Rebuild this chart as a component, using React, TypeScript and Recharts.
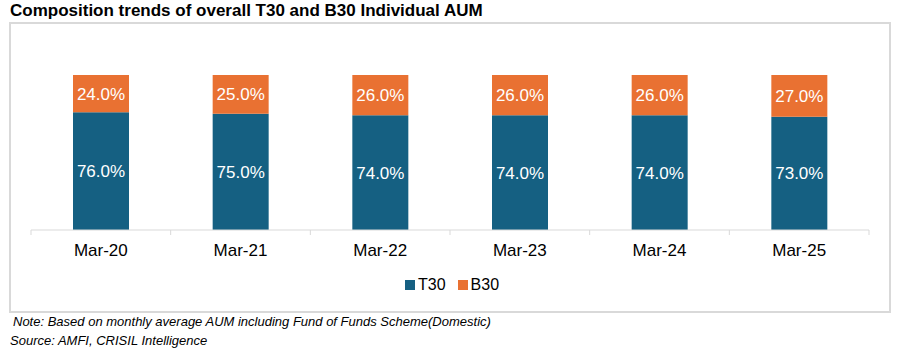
import { BarChart, Bar, XAxis, YAxis, LabelList } from 'recharts'

const periods = ['Mar-20', 'Mar-21', 'Mar-22', 'Mar-23', 'Mar-24', 'Mar-25']
const t30 = [76, 75, 74, 74, 74, 73]
const b30 = [24, 25, 26, 26, 26, 27]

const T30_COLOR = '#156082'
const B30_COLOR = '#E97132'
const FONT = '"Liberation Sans", Arial, sans-serif'

const series = [
  { key: 'T30', color: T30_COLOR },
  { key: 'B30', color: B30_COLOR },
]

const W = 916
const H = 357
const MARGIN = { top: 75, right: 47, bottom: 97, left: 31 }
const BAND = (W - MARGIN.left - MARGIN.right) / periods.length

const data = periods.map((name, i) => ({ name, T30: t30[i], B30: b30[i] }))

function PeriodTick(props: any) {
  const { x, y, payload, index } = props
  const left = x - BAND / 2
  const right = x + BAND / 2
  return (
    <g>
      <line x1={left} y1={y - 5} x2={left} y2={y} stroke="#d9d9d9" />
      {index === periods.length - 1 && <line x1={right} y1={y - 5} x2={right} y2={y} stroke="#d9d9d9" />}
      <text x={x} y={y} dy={21} textAnchor="middle" fill="#000" fontSize={17} fontFamily={FONT}>
        {payload.value}
      </text>
    </g>
  )
}

const pct = (v: any) => `${Number(v).toFixed(1)}%`

export default function App() {
  return (
    <div style={{ position: 'absolute', left: 0, top: 0, width: W, height: H, background: '#fff', fontFamily: FONT }}>
      <div style={{ position: 'absolute', left: 10, top: 1, fontSize: 17, fontWeight: 'bold', color: '#000', whiteSpace: 'nowrap' }}>
        Composition trends of overall T30 and B30 Individual AUM
      </div>
      <div
        style={{
          position: 'absolute',
          left: 9,
          top: 22,
          width: 878,
          height: 287,
          border: '2px solid #d9d9d9',
        }}
      />
      <div style={{ position: 'absolute', left: 0, top: 0 }}>
        <BarChart width={W} height={H} data={data} margin={MARGIN}>
          <XAxis
            dataKey="name"
            height={30}
            axisLine={{ stroke: '#d9d9d9' }}
            tickLine={false}
            tickSize={5}
            tickMargin={0}
            interval={0}
            tick={<PeriodTick />}
          />
          <YAxis hide domain={[0, 100]} />
          {series.map((s) => (
            <Bar key={s.key} dataKey={s.key} stackId="a" fill={s.color} barSize={56} isAnimationActive={false}>
              <LabelList dataKey={s.key} position="center" formatter={pct} fill="#fff" fontSize={17} fontFamily={FONT} />
            </Bar>
          ))}
        </BarChart>
      </div>
      <div
        style={{
          position: 'absolute',
          left: 405,
          top: 276,
          display: 'flex',
          alignItems: 'center',
          fontSize: 16,
          color: '#000',
          lineHeight: '18px',
        }}
      >
        {series.map((s) => (
          <div key={s.key} style={{ display: 'flex', alignItems: 'center', marginRight: 12 }}>
            <span style={{ display: 'inline-block', width: 10, height: 10, background: s.color, marginRight: 3 }} />
            <span>{s.key}</span>
          </div>
        ))}
      </div>
      <div style={{ position: 'absolute', left: 13, top: 314, fontSize: 13, fontStyle: 'italic', color: '#000', whiteSpace: 'nowrap' }}>
        Note: Based on monthly average AUM including Fund of Funds Scheme(Domestic)
      </div>
      <div style={{ position: 'absolute', left: 10, top: 333, fontSize: 13, fontStyle: 'italic', color: '#000', whiteSpace: 'nowrap' }}>
        Source: AMFI, CRISIL Intelligence
      </div>
    </div>
  )
}
